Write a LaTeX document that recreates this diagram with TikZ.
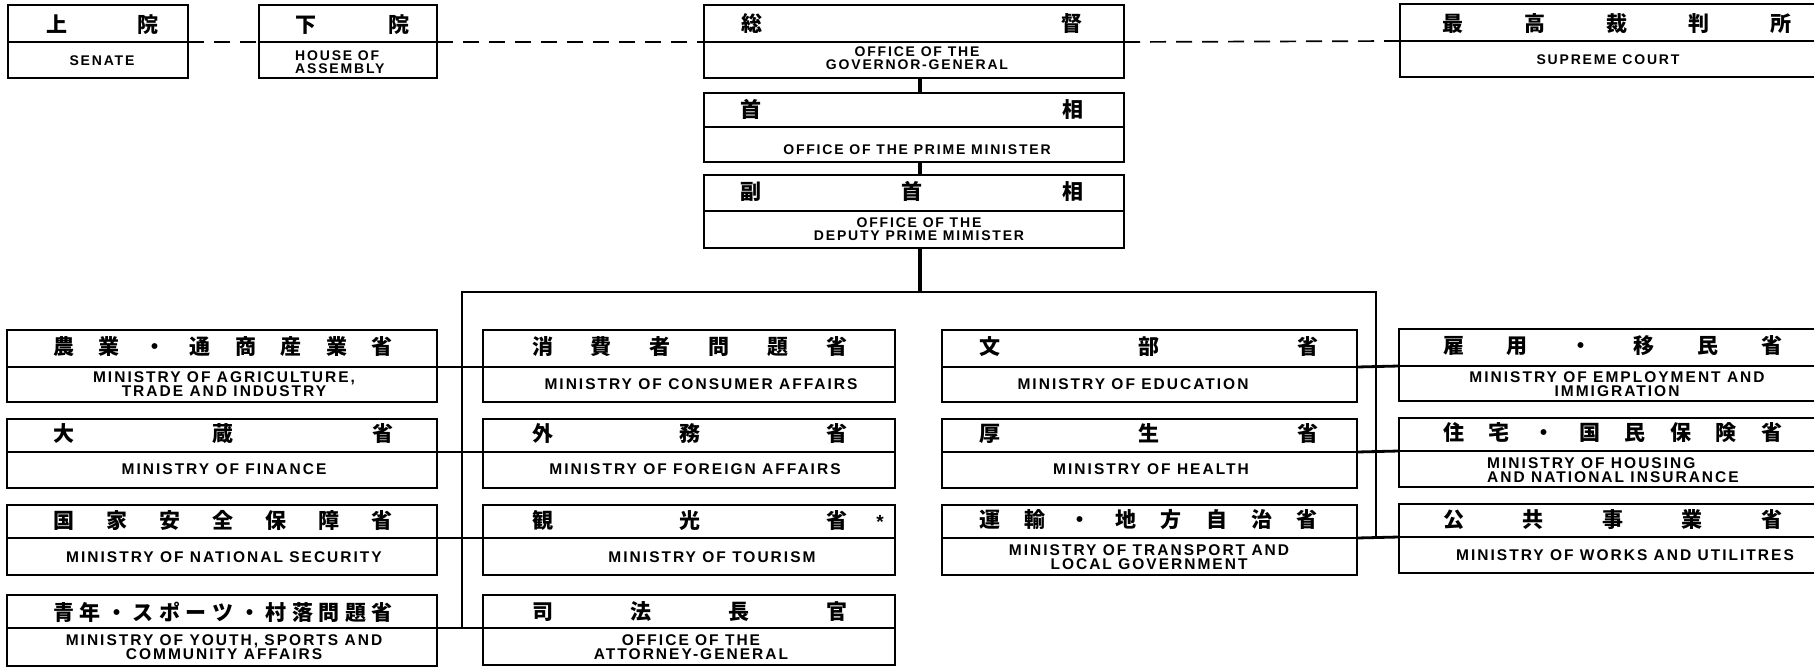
\documentclass[tikz,border=0pt]{standalone}
\usepackage{fontspec}
\usetikzlibrary{fit}
\newfontfamily\jpf{Noto Sans CJK JP}
\newfontfamily\enf{Liberation Sans}[LetterSpace=13]
\hbadness=10000
\newcommand\spr[2]{\makebox[#1pt][s]{#2}}
\newcommand\obox[6]{%
  \node[box, fit={(#2,#3) (#4,#6)}] (#1) {};
  \coordinate (#1-l) at (#2,#5);
  \coordinate (#1-r) at (#4,#5);
  \draw[divider] (#1-l) -- (#1-r);}
\begin{document}
\begin{tikzpicture}[x=1pt,y=-1pt,
  box/.style={draw, line width=2pt, inner sep=0pt, outer sep=0pt},
  divider/.style={line width=1.6pt},
  jp/.style={inner sep=0pt, font=\jpf\bfseries\fontsize{21}{21}\selectfont},
  en/.style={inner sep=0pt, align=center, font=\enf\bfseries\fontsize{15.5}{14.5}\selectfont},
  ent/.style={inner sep=0pt, align=center, font=\enf\bfseries\fontsize{14}{12.5}\selectfont},
  conn/.style={line width=2.8pt},
  spine/.style={line width=3.6pt},
  dashconn/.style={line width=1.7pt, dash pattern=on 16pt off 10pt},
]
\fill[white] (0,0) rectangle (1814,668);
\useasboundingbox (0,0) rectangle (1814,668);

% ---------- top row ----------
\obox{sen}{8}{5}{188}{42}{78}
\node[jp] (senj) at (102,25) {\spr{112}{上 院}};
\node[ent] (sene) at (102,61) {SENATE};

\obox{hoa}{259}{5}{437}{42}{78}
\node[jp] (hoaj) at (352,25) {\spr{114}{下 院}};
\node[ent, align=left, anchor=west] (hoae) at (295,62) {HOUSE OF\\ASSEMBLY};

\obox{gg}{704}{5}{1124}{42}{78}
\node[jp] (ggj) at (912,24) {\spr{341}{総 督}};
\node[ent] (gge) at (917,58) {OFFICE OF THE\\GOVERNOR-GENERAL};

\obox{pm}{704}{93}{1124}{127}{162}
\node[jp] (pmj) at (912,109) {\spr{343}{首 相}};
\node[ent] (pme) at (917,150) {OFFICE OF THE PRIME MINISTER};

\obox{dpm}{704}{175}{1124}{211}{248}
\node[jp] (dpmj) at (912,191) {\spr{343}{副 首 相}};
\node[ent] (dpme) at (919,229) {OFFICE OF THE\\DEPUTY PRIME MIMISTER};

\obox{sc}{1400}{4}{1818}{41}{77}
\node[jp] (scj) at (1617,24) {\spr{349}{最 高 裁 判 所}};
\node[ent] (sce) at (1608,60) {SUPREME COURT};

% ---------- left column ----------
\obox{la}{7}{330}{437}{367}{402}
\node[jp] (laj) at (223,347) {\spr{340}{農 業 ・ 通 商 産 業 省}};
\node[en] (lae) at (224,384) {MINISTRY OF AGRICULTURE,\\TRADE AND INDUSTRY};

\obox{lb}{7}{419}{437}{452}{488}
\node[jp] (lbj) at (223,434) {\spr{340}{大 蔵 省}};
\node[en] (lbe) at (224,469.5) {MINISTRY OF FINANCE};

\obox{lc}{7}{505}{437}{538}{575}
\node[jp] (lcj) at (223,520) {\spr{340}{国 家 安 全 保 障 省}};
\node[en] (lce) at (224,557) {MINISTRY OF NATIONAL SECURITY};

\obox{ld}{7}{595}{437}{628}{666}
\node[jp] (ldj) at (223,612) {\spr{340}{青 年 ・ ス ポ ー ツ ・ 村 落 問 題 省}};
\node[en] (lde) at (224,647) {MINISTRY OF YOUTH, SPORTS AND\\COMMUNITY AFFAIRS};

% ---------- middle column ----------
\obox{ma}{483}{330}{895}{367}{402}
\node[jp] (maj) at (689.5,347) {\spr{315}{消 費 者 問 題 省}};
\node[en] (mae) at (701,384) {MINISTRY OF CONSUMER AFFAIRS};

\obox{mb}{483}{419}{895}{452}{488}
\node[jp] (mbj) at (689.5,434) {\spr{315}{外 務 省}};
\node[en] (mbe) at (695,469.5) {MINISTRY OF FOREIGN AFFAIRS};

\obox{mc}{483}{505}{895}{538}{575}
\node[jp] (mcj) at (689.5,520) {\spr{315}{観 光 省}};
\node[inner sep=0pt, font=\enf\bfseries\fontsize{19}{19}\selectfont] (ast) at (880,522) {*};
\node[en] (mce) at (712,557) {MINISTRY OF TOURISM};

\obox{md}{483}{595}{895}{628}{665}
\node[jp] (mdj) at (689.5,612) {\spr{315}{司 法 長 官}};
\node[en] (mde) at (691,647) {OFFICE OF THE\\ATTORNEY-GENERAL};

% ---------- middle-right column ----------
\obox{ea}{942}{330}{1357}{367}{402}
\node[jp] (eaj) at (1148.5,347) {\spr{339}{文 部 省}};
\node[en] (eae) at (1133,384) {MINISTRY OF EDUCATION};

\obox{eb}{942}{419}{1357}{452}{488}
\node[jp] (ebj) at (1148.5,434) {\spr{339}{厚 生 省}};
\node[en] (ebe) at (1151,469.5) {MINISTRY OF HEALTH};

\obox{ec}{942}{505}{1357}{538}{575}
\node[jp] (ecj) at (1148.5,520) {\spr{339}{運 輸 ・ 地 方 自 治 省}};
\node[en] (ece) at (1149,557) {MINISTRY OF TRANSPORT AND\\LOCAL GOVERNMENT};

% ---------- right column ----------
\obox{ra}{1399}{329}{1818}{366}{401}
\node[jp] (raj) at (1612.5,346) {\spr{339}{雇 用 ・ 移 民 省}};
\node[en] (rae) at (1617,384) {MINISTRY OF EMPLOYMENT AND\\IMMIGRATION};

\obox{rb}{1399}{418}{1818}{451}{487}
\node[jp] (rbj) at (1612.5,433) {\spr{339}{住 宅 ・ 国 民 保 険 省}};
\node[en, align=left, anchor=west] (rbe) at (1487,470) {MINISTRY OF HOUSING\\AND NATIONAL INSURANCE};

\obox{rc}{1399}{504}{1818}{537}{573}
\node[jp] (rcj) at (1612.5,520) {\spr{339}{公 共 事 業 省}};
\node[en] (rce) at (1625,555) {MINISTRY OF WORKS AND UTILITRES};

% ---------- connectors ----------
\coordinate (spinex) at (920,0);
\coordinate (busL) at (462,292);
\coordinate (busR) at (1376,292);

\draw[dashconn] (sen-r) -- (hoa-l);
\draw[dashconn] (hoa-r) -- (gg-l);
\draw[dashconn] (gg-r) -- (sc-l);

\draw[spine] (gg.south -| spinex) -- (pm.north -| spinex);
\draw[spine] (pm.south -| spinex) -- (dpm.north -| spinex);
\draw[spine] (dpm.south -| spinex) -- (spinex |- busL);
\draw[conn] (ld-r -| busL) -- (busL) -- (busR) -- (rc-l -| busR);

\draw[conn] (la-r) -- (ma-l);
\draw[conn] (lb-r) -- (mb-l);
\draw[conn] (lc-r) -- (mc-l);
\draw[conn] (ld-r) -- (md-l);
\draw[conn] (ea-r) -- (ra-l);
\draw[conn] (eb-r) -- (rb-l);
\draw[conn] (ec-r) -- (rc-l);
\end{tikzpicture}
\end{document}
